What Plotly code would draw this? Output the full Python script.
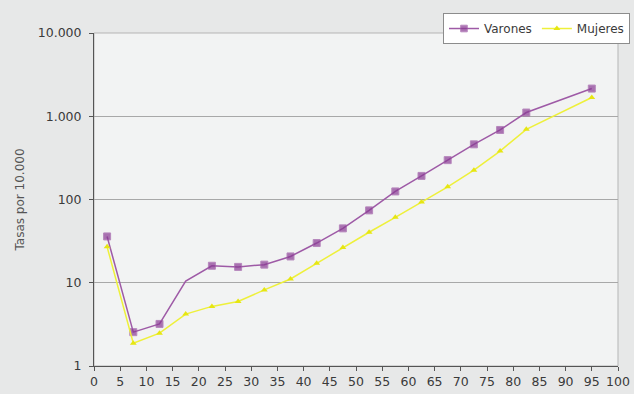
import plotly.graph_objects as go

edades = [2.5, 7.5, 12.5, 17.5, 22.5, 27.5, 32.5, 37.5, 42.5, 47.5, 52.5, 57.5, 62.5, 67.5, 72.5, 77.5, 82.5, 95]
varones = [36, 2.55, 3.2, 10.5, 16, 15.5, 16.5, 20.7, 30, 45, 74, 125, 192, 297, 460, 684, 1108, 2150]
mujeres = [27, 1.88, 2.48, 4.2, 5.2, 5.95, 8.2, 11.1, 17.1, 26.6, 40.4, 61, 93, 142, 225, 382, 697, 1680]
marcadores_varones = [True, True, True, False] + [True] * 14

y_tickvals = [1, 10, 100, 1000, 10000]
y_ticktext = ["1", "10", "100", "1.000", "10.000"]
x_tickvals = list(range(0, 101, 5))

FONT = "DejaVu Sans, Verdana, sans-serif"

fig = go.Figure()
fig.add_trace(go.Scatter(
    x=edades, y=varones, name="Varones", mode="lines+markers",
    line=dict(color="#9e5aa6", width=1.5),
    marker=dict(symbol="square", size=[7 if m else 0 for m in marcadores_varones], color="#8a3b94"),
))
fig.add_trace(go.Scatter(
    x=edades, y=mujeres, name="Mujeres", mode="lines+markers",
    line=dict(color="#eef03a", width=1.5),
    marker=dict(symbol="triangle-up", size=6, color="#e6e612"),
))

fig.update_layout(
    width=634, height=394,
    margin=dict(l=94, r=16, t=33, b=28, autoexpand=False),
    paper_bgcolor="#e7e8e8",
    plot_bgcolor="#f2f3f3",
    font=dict(family=FONT, size=13, color="#3a3a3a"),
    showlegend=True,
    legend=dict(
        orientation="h", x=0.666, xanchor="left", y=1.06, yanchor="top",
        bgcolor="#ffffff", bordercolor="#8c8c8c", borderwidth=1,
        font=dict(family=FONT, size=12, color="#3a3a3a"),
        itemwidth=30, tracegroupgap=0,
    ),
    shapes=[dict(type="rect", xref="paper", yref="paper", x0=0, x1=1, y0=0, y1=1,
                 line=dict(color="#b5b5b5", width=1), layer="below")],
)
fig.update_xaxes(
    range=[0, 100], tickvals=x_tickvals, showgrid=False,
    showline=True, linecolor="#555555", linewidth=1,
    ticks="outside", ticklen=4, tickcolor="#555555",
    tickfont=dict(family=FONT, size=12.5, color="#3a3a3a"), zeroline=False,
)
fig.update_yaxes(
    type="log", range=[0, 4], tickvals=y_tickvals, ticktext=y_ticktext,
    showgrid=True, gridcolor="#a8a8a8", gridwidth=1,
    showline=True, linecolor="#555555", linewidth=1,
    ticks="outside", ticklen=4, tickcolor="#555555", ticklabelstandoff=5,
    tickfont=dict(family=FONT, size=12.5, color="#3a3a3a"),
    title=dict(text="Tasas por 10.000", font=dict(family=FONT, size=12, color="#555555"), standoff=10),
    zeroline=False,
)

fig.write_html("out.html", config={"displayModeBar": False},
               post_script="document.body.style.margin='0';document.body.style.background='#e7e8e8';")
